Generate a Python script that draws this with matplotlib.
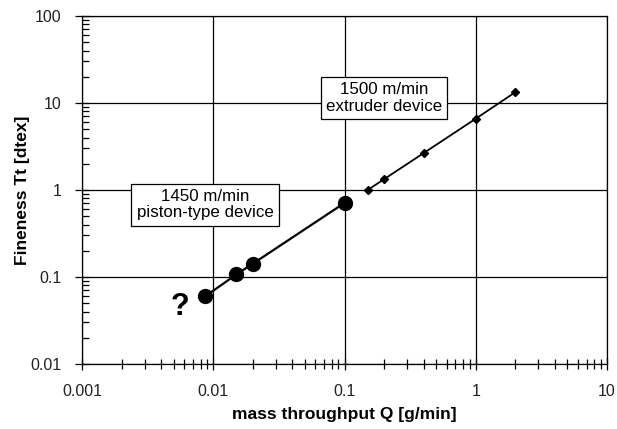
import matplotlib
matplotlib.use('Agg')
from matplotlib import pyplot as plt
from matplotlib.ticker import LogLocator, FixedLocator, NullFormatter

plt.rcParams['font.family'] = ['Liberation Sans', 'DejaVu Sans']

# piston-type device, 1450 m/min
piston_q = [0.0087, 0.015, 0.02, 0.1]
piston_tt = [0.06, 0.107, 0.142, 0.71]

# extruder device, 1500 m/min
extruder_q = [0.15, 0.2, 0.4, 1.0, 2.0]
extruder_tt = [1.0, 1.33, 2.65, 6.6, 13.3]

x_ticks = [0.001, 0.01, 0.1, 1, 10]
x_labels = ['0.001', '0.01', '0.1', '1', '10']
y_ticks = [0.01, 0.1, 1, 10, 100]
y_labels = ['0.01', '0.1', '1', '10', '100']

fig = plt.figure(figsize=(6.17, 4.29), dpi=100)
ax = fig.add_axes([82 / 617, 1 - 364 / 429, (607 - 82) / 617, (364 - 16) / 429])

ax.set_xscale('log')
ax.set_yscale('log')
ax.set_xlim(0.001, 10)
ax.set_ylim(0.01, 100)

ax.plot(piston_q, piston_tt, color='black', linewidth=1.6, marker='o', markersize=10, zorder=3)
ax.plot(extruder_q, extruder_tt, color='black', linewidth=1.3, marker='D', markersize=4.5, zorder=3)

# grid and ticks
ax.xaxis.set_major_locator(FixedLocator(x_ticks))
ax.yaxis.set_major_locator(FixedLocator(y_ticks))
ax.set_xticklabels(x_labels)
ax.set_yticklabels(y_labels)
ax.xaxis.set_minor_locator(LogLocator(base=10, subs=range(2, 10)))
ax.yaxis.set_minor_locator(LogLocator(base=10, subs=range(2, 10)))
ax.xaxis.set_minor_formatter(NullFormatter())
ax.yaxis.set_minor_formatter(NullFormatter())
ax.grid(True, which='major', color='black', linewidth=0.9)
ax.tick_params(which='both', color='black', labelsize=11.5, labelcolor='#222222')
ax.tick_params(axis='x', which='major', direction='inout', length=9, width=0.9, pad=10)
ax.tick_params(axis='x', which='minor', direction='inout', length=7, width=0.9)
ax.tick_params(axis='y', which='major', direction='inout', length=10, width=0.9, pad=10)
ax.tick_params(axis='y', which='minor', direction='in', length=5, width=0.9)
for side in ['left', 'bottom', 'top', 'right']:
    ax.spines[side].set_linewidth(0.9)
    ax.spines[side].set_color('black')

ax.set_xlabel('mass throughput Q [g/min]', fontsize=12.5, fontweight='bold', labelpad=6)
ax.set_ylabel('Fineness Tt [dtex]', fontsize=12.5, fontweight='bold', labelpad=0)

box = dict(boxstyle='square,pad=0.3', facecolor='white', edgecolor='black', linewidth=0.9)
ax.text(0.00865, 0.68, '1450 m/min\npiston-type device', ha='center', va='center',
        fontsize=12.2, bbox=box, zorder=4, linespacing=1.15)
ax.text(0.2, 11.4, '1500 m/min\nextruder device', ha='center', va='center',
        fontsize=12.2, bbox=box, zorder=4, linespacing=1.15)
ax.text(0.0056, 0.045, '?', ha='center', va='center', fontsize=22, fontweight='bold')

fig.savefig('out.png', dpi=100)
